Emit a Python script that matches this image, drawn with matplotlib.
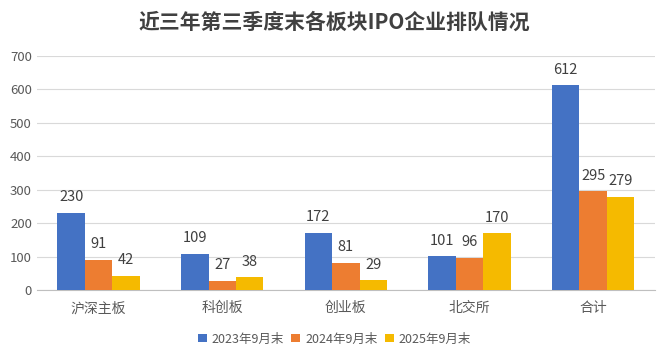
import matplotlib.pyplot as plt
import numpy as np

plt.rcParams['font.family'] = ['Noto Sans CJK SC', 'DejaVu Sans']

CATEGORIES = ['沪深主板', '科创板', '创业板', '北交所', '合计']
SERIES = ['2023年9月末', '2024年9月末', '2025年9月末']
V2023 = [230, 109, 172, 101, 612]
V2024 = [91, 27, 81, 96, 295]
V2025 = [42, 38, 29, 170, 279]
COLORS = ['#4472C4', '#ED7D31', '#F5BA00']

fig = plt.figure(figsize=(6.69, 3.52), dpi=100)
ax = fig.add_axes([0.055, 0.176, 0.924, 0.665])

x = np.arange(len(CATEGORIES))
width = 0.222
for i, (vals, name) in enumerate(zip([V2023, V2024, V2025], SERIES)):
	bars = ax.bar(x + (i - 1) * width, vals, width, color=COLORS[i], label=name, zorder=3)
	for b, v in zip(bars, vals):
		ax.text(b.get_x() + b.get_width() / 2, v + 26, str(v), ha='center', va='bottom',
				fontsize=10.5, color='#404040')

ax.set_xlim(-0.5, len(CATEGORIES) - 0.5)
ax.set_ylim(0, 700)
ax.set_yticks(np.arange(0, 701, 100))
ax.set_xticks(x)
ax.set_xticklabels(CATEGORIES)
ax.tick_params(axis='both', length=0, labelsize=9.5, colors='#595959')
ax.tick_params(axis='x', pad=8, labelsize=10)
ax.grid(axis='y', color='#D9D9D9', linewidth=0.8, zorder=0)
for s in ['top', 'right', 'left']:
	ax.spines[s].set_visible(False)
ax.spines['bottom'].set_color('#BFBFBF')

fig.text(0.5, 0.937, '近三年第三季度末各板块IPO企业排队情况', ha='center', va='center',
		 fontsize=15, fontweight='bold', color='#404040')

fig.legend(loc='center', bbox_to_anchor=(0.5, 0.037), ncol=3, frameon=False,
		   fontsize=9, handlelength=0.7, handleheight=0.7, handletextpad=0.4,
		   columnspacing=0.6, labelcolor='#595959')

fig.savefig('out.png', dpi=100)
